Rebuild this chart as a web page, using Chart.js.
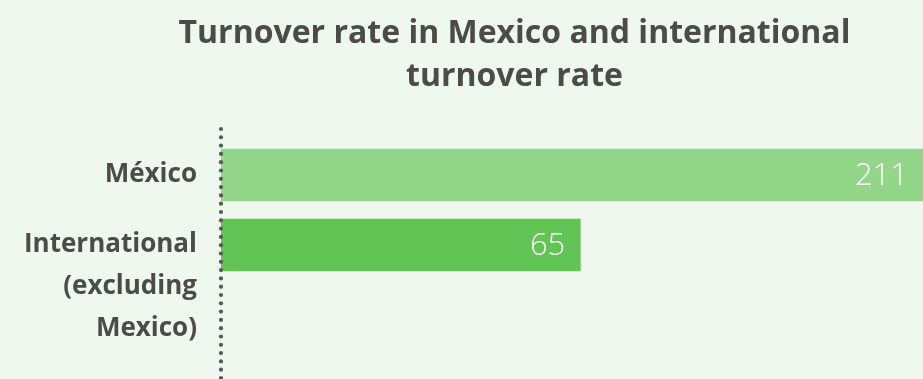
<!DOCTYPE html>
<html lang="en">
<head>
    <meta charset="UTF-8">
    <title>Turnover rate</title>
    <script src="https://cdn.jsdelivr.net/npm/chart.js"></script>
    <style>
        html, body {
            margin: 0;
            padding: 0;
            background-color: #eff8ee;
            font-family: 'Open Sans', sans-serif;
        }

        .wrap {
            position: relative;
            width: 923px;
            height: 379px;
        }

        .chart-title {
            position: absolute;
            top: 9px;
            left: 106px;
            right: 0;
            margin: 0;
            text-align: center;
            font-size: 32px;
            line-height: 43px;
            font-weight: bold;
            color: #4d4b49;
        }

        canvas {
            position: absolute;
            top: 0;
            left: 0;
        }
    </style>
</head>
<body>
    <div class="wrap">
        <canvas id="turnoverChart"></canvas>
        <p class="chart-title">Turnover rate in Mexico and international<br>turnover rate</p>
    </div>

    <script>
        const categories = [['México'], ['International', '(excluding', 'Mexico)']];
        const turnover = [211, 65];
        const barColors = ['#93d68a', '#62c455'];

        // value labels at the end of each bar, kept inside the plot area
        const valueLabels = {
            id: 'valueLabels',
            afterDatasetsDraw(chart) {
                const ctx = chart.ctx;
                const area = chart.chartArea;
                ctx.save();
                ctx.fillStyle = '#ffffff';
                ctx.font = '300 31px "Open Sans"';
                ctx.textAlign = 'right';
                ctx.textBaseline = 'middle';
                chart.getDatasetMeta(0).data.forEach((bar, i) => {
                    const x = Math.min(bar.x, area.right) - 15;
                    ctx.fillText(String(turnover[i]), x, bar.y + 1);
                });
                ctx.restore();
            }
        };

        // dotted baseline on the left of the bars
        const dottedAxis = {
            id: 'dottedAxis',
            afterDatasetsDraw(chart) {
                const ctx = chart.ctx;
                const x = chart.chartArea.left;
                ctx.save();
                ctx.fillStyle = '#585858';
                for (let y = chart.chartArea.top - 11; y < chart.height + 4; y += 8.3) {
                    ctx.beginPath();
                    ctx.arc(x, y, 2.1, 0, Math.PI * 2);
                    ctx.fill();
                }
                ctx.restore();
            }
        };

        new Chart(document.getElementById('turnoverChart'), {
            type: 'bar',
            data: {
                labels: categories,
                datasets: [{
                    data: turnover,
                    backgroundColor: barColors,
                    borderWidth: 0,
                    barThickness: 52,
                }],
            },
            plugins: [valueLabels, dottedAxis],
            options: {
                indexAxis: 'y',
                responsive: true,
                maintainAspectRatio: false,
                animation: false,
                layout: {
                    padding: { top: 140, bottom: 99, left: 0, right: 0 },
                },
                plugins: {
                    legend: { display: false },
                    tooltip: { enabled: false },
                    title: { display: false },
                },
                scales: {
                    x: {
                        display: false,
                        min: 0,
                        max: 127,
                    },
                    y: {
                        afterFit(scale) {
                            scale.width = 221;
                        },
                        grid: { display: false, drawTicks: false },
                        border: { display: false },
                        ticks: {
                            autoSkip: false,
                            padding: 24,
                            color: '#4d4b49',
                            font: { family: 'Open Sans', size: 26, weight: 'bold', lineHeight: '42px' },
                            // pad with empty lines so the first line sits on the bar
                            callback(value, index) {
                                const lines = categories[index];
                                const blanks = Array(lines.length - 1).fill('');
                                return blanks.concat(lines);
                            },
                        },
                    },
                },
            },
        });
    </script>
</body>
</html>
